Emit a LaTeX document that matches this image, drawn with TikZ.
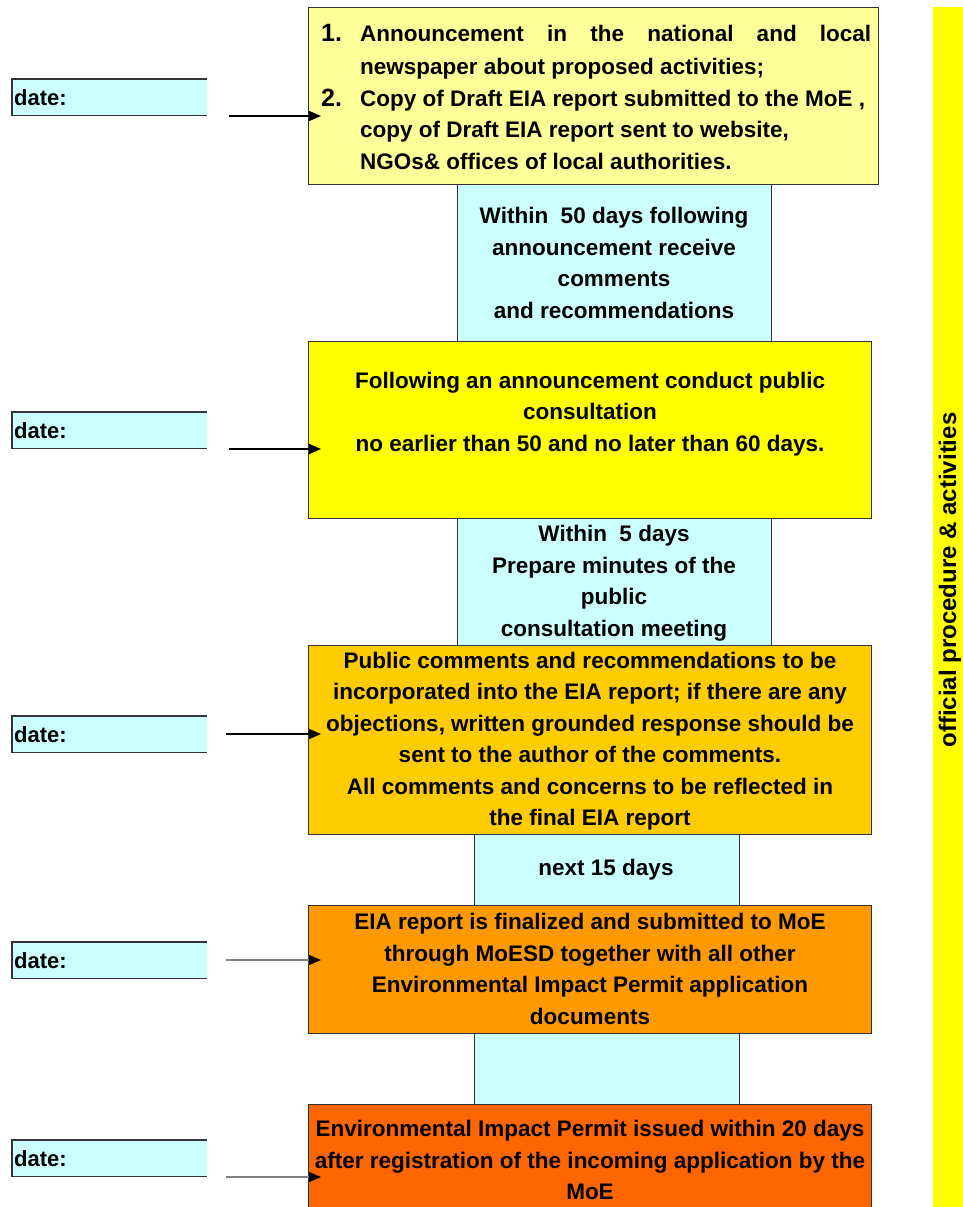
\documentclass[tikz,border=0pt]{standalone}
\usepackage{fontspec}
\setmainfont{Liberation Sans}
\usetikzlibrary{arrows.meta}
\definecolor{cyanbox}{HTML}{CCFFFF}
\definecolor{paleyellow}{HTML}{FFFF99}
\definecolor{brightyellow}{HTML}{FFFF00}
\definecolor{goldbox}{HTML}{FFCC00}
\definecolor{orangebox}{HTML}{FF9900}
\definecolor{redorange}{HTML}{FF6600}
\definecolor{edgegray}{HTML}{333333}
\begin{document}
\begin{tikzpicture}[x=1pt,y=-1pt,
  txt/.style={font=\bfseries\fontsize{22.5}{31.5}\selectfont, align=center, inner sep=0pt},
  stage/.style={draw=edgegray, line width=1.2pt, anchor=north west, inner sep=0pt},
  gapbox/.style={draw=edgegray, line width=1pt, fill=cyanbox, anchor=north west, inner sep=0pt},
  datebox/.style={fill=cyanbox, anchor=north west, minimum width=195pt, minimum height=36pt, inner sep=2pt, text width=191pt, align=left, font=\bfseries\fontsize{22}{24}\selectfont},
  arr/.style={line width=1.4pt, -{Triangle[length=12pt,width=10pt,color=black]}},
]
\useasboundingbox (0,0) rectangle (963,1207);
\fill[white] (0,0) rectangle (963,1207);

% side bar
\node[fill=brightyellow, anchor=north west, minimum width=30pt, minimum height=1200pt, inner sep=0pt] (bar) at (933,7) {};
\node[txt, rotate=90, font=\bfseries\fontsize{24}{26}\selectfont] (bartext) at (950,580) {official procedure \& activities};

% connector (cyan) boxes
\node[gapbox, minimum width=314pt, minimum height=157pt] (g1) at (457,184) {};
\node[gapbox, minimum width=314pt, minimum height=127pt] (g2) at (457,518) {};
\node[gapbox, minimum width=265pt, minimum height=71pt] (g3) at (474,834) {};
\node[gapbox, minimum width=265pt, minimum height=71pt] (g4) at (474,1033) {};

\node[txt] (tg1) at (614,263) {Within\ \ 50 days following\\announcement receive\\comments\\and recommendations};
\node[txt] (tg2) at (614,583) {Within\ \ 5 days\\Prepare minutes of the\\public\\consultation meeting};
\node[txt] (tg3) at (606,870) {next 15 days};

% stage boxes
\node[stage, fill=paleyellow, minimum width=570pt, minimum height=177pt] (b1) at (308,7) {};
\node[stage, fill=brightyellow, minimum width=563pt, minimum height=177pt] (b2) at (308,341) {};
\node[stage, fill=goldbox, minimum width=563pt, minimum height=189pt] (b3) at (308,645) {};
\node[stage, fill=orangebox, minimum width=563pt, minimum height=128pt] (b4) at (308,905) {};
\node[stage, fill=redorange, minimum width=563pt, minimum height=110pt] (b5) at (308,1104) {};

\node[txt, align=left, anchor=west] (t1) at (321,97) {%
\makebox[39pt][l]{\fontsize{25}{31.5}\selectfont 1.}\makebox[511pt][s]{Announcement in the national and local}\\[2pt]
\hspace*{39pt}newspaper about proposed activities;\\
\makebox[39pt][l]{\fontsize{25}{31.5}\selectfont 2.}Copy of Draft EIA report submitted to the MoE ,\\
\hspace*{39pt}copy of Draft EIA report sent to website,\\
\hspace*{39pt}NGOs\& offices of local authorities.};
\node[txt] (t2) at (590,414) {Following an announcement conduct public\\consultation\\no earlier than 50 and no later than 60 days.};
\node[txt] (t3) at (590,741) {Public comments and recommendations to be\\incorporated into the EIA report; if there are any\\objections, written grounded response should be\\sent to the author of the comments.\\All comments and concerns to be reflected in\\the final EIA report};
\node[txt] (t4) at (590,969) {EIA report is finalized and submitted to MoE\\through MoESD together with all other\\Environmental Impact Permit application\\documents};
\node[txt] (t5) at (590,1160) {Environmental Impact Permit issued within 20 days\\after registration of the incoming application by the\\MoE};

% date boxes
\foreach \n/\y in {1/79,2/412,3/716,4/942,5/1140}{
  \node[datebox] (d\n) at (12,\y) {date:};
  \draw[edgegray, line width=1.2pt] (d\n.north east) -- (d\n.north west) -- (d\n.south west) -- (d\n.south east);
}

% arrows
\coordinate (s1) at (229,116);
\coordinate (s2) at (229,449);
\coordinate (s3) at (226,734);
\coordinate (s4) at (226,960);
\coordinate (s5) at (226,1177);
\draw[arr, black] (s1) -- ([xshift=13pt]s1 -| b1.west);
\draw[arr, black] (s2) -- ([xshift=13pt]s2 -| b2.west);
\draw[arr, black] (s3) -- ([xshift=13pt]s3 -| b3.west);
\draw[arr, gray] (s4) -- ([xshift=13pt]s4 -| b4.west);
\draw[arr, gray] (s5) -- ([xshift=13pt]s5 -| b5.west);
\end{tikzpicture}
\end{document}
